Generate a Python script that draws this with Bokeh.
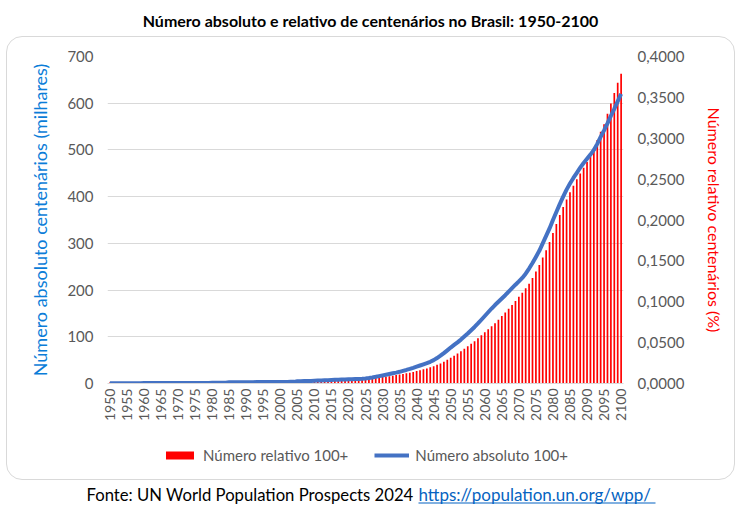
import numpy as np
from bokeh.plotting import figure
from bokeh.layouts import column
from bokeh.models import (Range1d, LinearAxis, FixedTicker, CustomJSTickFormatter,
                          Legend, LegendItem, Label, BoxAnnotation)
from bokeh.embed import file_html
from bokeh.resources import INLINE

years = list(range(1950, 2101))

# Número absoluto de centenários (milhares), 1950-2100
absolute_thousands = [
    0.7, 0.7, 0.7, 0.7, 0.8, 0.8, 0.8, 0.8, 0.8, 0.8,            # 1950s
    0.9, 0.9, 0.9, 0.9, 0.9, 1.0, 1.0, 1.0, 1.0, 1.0,            # 1960s
    1.1, 1.1, 1.1, 1.1, 1.2, 1.2, 1.2, 1.3, 1.3, 1.3,            # 1970s
    1.4, 1.4, 1.5, 1.5, 1.6, 2.6, 2.6, 2.7, 2.7, 2.8,            # 1980s
    2.8, 2.9, 2.9, 3.0, 3.0, 3.1, 3.1, 3.2, 3.2, 3.3,            # 1990s
    3.3, 3.4, 3.4, 3.5, 3.5, 4.8, 5.0, 5.2, 5.4, 5.6,            # 2000s
    6.0, 6.3, 6.6, 6.9, 7.2, 7.5, 7.8, 8.0, 8.3, 8.6,            # 2010s
    8.9, 9.1, 9.4, 9.7, 10.1, 10.8, 11.8, 13.0, 14.3, 15.8,      # 2020s
    17.3, 18.8, 20.3, 21.8, 23.3, 25.0, 27.0, 29.0, 31.2, 33.5,  # 2030s
    36.0, 38.5, 41.0, 43.5, 46.5, 50.0, 54.5, 59.5, 65.0, 71.0,  # 2040s
    77.0, 82.5, 88.0, 94.0, 100.5, 107.0, 114.0, 121.0, 128.5, 136.5,  # 2050s
    144.5, 152.5, 160.5, 168.0, 175.0, 182.0, 189.0, 196.5, 204.0, 211.5,  # 2060s
    218.5, 226.0, 235.0, 246.0, 258.0, 271.0, 284.0, 300.0, 316.0, 332.0,  # 2070s
    350.0, 367.0, 384.0, 400.0, 415.0, 428.0, 440.0, 451.0, 462.0, 472.0,  # 2080s
    481.0, 490.0, 500.0, 513.0, 528.0, 542.0, 557.0, 573.0, 588.0, 604.0,  # 2090s
    620.0,                                                        # 2100
]

# Número relativo de centenários (% da população), 1950-2100
relative_pct = [
    0.0012, 0.0012, 0.0012, 0.0012, 0.0012, 0.0012, 0.0012, 0.0012, 0.0012, 0.0012,
    0.0011, 0.0011, 0.0011, 0.0011, 0.0011, 0.0011, 0.0011, 0.0011, 0.0011, 0.0011,
    0.0011, 0.0011, 0.0011, 0.0011, 0.0011, 0.0011, 0.0011, 0.0011, 0.0011, 0.0011,
    0.0012, 0.0012, 0.0012, 0.0012, 0.0012, 0.0018, 0.0018, 0.0018, 0.0018, 0.0018,
    0.0018, 0.0018, 0.0018, 0.0018, 0.0018, 0.0018, 0.0018, 0.0018, 0.0018, 0.0018,
    0.0018, 0.0018, 0.0018, 0.0018, 0.0018, 0.0024, 0.0025, 0.0026, 0.0027, 0.0027,
    0.0028, 0.0029, 0.0031, 0.0033, 0.0034, 0.0036, 0.0037, 0.0039, 0.0040, 0.0041,
    0.0042, 0.0043, 0.0044, 0.0046, 0.0048, 0.0050, 0.0055, 0.0060, 0.0066, 0.0072,
    0.0078, 0.0084, 0.0090, 0.0096, 0.0103, 0.0110, 0.0117, 0.0124, 0.0132, 0.0142,
    0.0152, 0.0162, 0.0173, 0.0185, 0.0198, 0.0212, 0.0228, 0.0246, 0.0266, 0.0290,
    0.0315, 0.0340, 0.0367, 0.0395, 0.0425, 0.0455, 0.0485, 0.0518, 0.0552, 0.0590,
    0.0628, 0.0665, 0.0700, 0.0738, 0.0780, 0.0825, 0.0870, 0.0915, 0.0960, 0.1010,
    0.1060, 0.1110, 0.1165, 0.1220, 0.1290, 0.1370, 0.1450, 0.1540, 0.1630, 0.1730,
    0.1840, 0.1950, 0.2060, 0.2160, 0.2250, 0.2340, 0.2420, 0.2500, 0.2570, 0.2640,
    0.2710, 0.2780, 0.2870, 0.2980, 0.3080, 0.3170, 0.3300, 0.3425, 0.3555, 0.3680,
    0.3790,
]

x_ticks = list(range(1950, 2101, 5))
left_ticks = [0, 100, 200, 300, 400, 500, 600, 700]
right_ticks = [0.0, 0.05, 0.10, 0.15, 0.20, 0.25, 0.30, 0.35, 0.40]

title_text = "Número absoluto e relativo de centenários no Brasil: 1950-2100"
left_label = "Número absoluto centenários (milhares)"
right_label = "Número relativo centenários (%)"
legend_rel = "Número relativo 100+"
legend_abs = "Número absoluto 100+"
source_text = "Fonte: UN World Population Prospects 2024"
source_link = "https://population.un.org/wpp/"

FONT = "Lato"
GRAY = "#595959"
RED = "#ff0000"
BLUE = "#4472c4"
LINK = "#0563c1"
X_RANGE = (1949.3, 2100.7)


def blank_figure(w, h, xr, yr):
    f = figure(width=w, height=h, output_backend="svg", toolbar_location=None,
               x_range=Range1d(*xr), y_range=Range1d(*yr),
               x_axis_type=None, y_axis_type=None, min_border=0)
    f.outline_line_color = None
    f.grid.visible = False
    f.background_fill_alpha = 0
    f.border_fill_alpha = 0
    return f


# ---------- title strip ----------
TW, TH = 740, 36
t = blank_figure(TW, TH, (0, TW), (TH, 0))
t.add_layout(Label(x=370, y=20, text=title_text, text_font=FONT,
                   text_font_size="16px", text_font_style="bold",
                   text_color="#000000", text_align="center", text_baseline="middle"))

# ---------- main chart ----------
p = figure(width=727, height=393, output_backend="svg", toolbar_location=None,
           x_range=Range1d(*X_RANGE), y_range=Range1d(0, 700),
           min_border_left=100, min_border_right=111, min_border_top=19,
           min_border_bottom=47)
p.extra_y_ranges = {"rel": Range1d(0, 0.4)}
p.outline_line_color = None
p.background_fill_alpha = 0
p.border_fill_alpha = 0
p.xgrid.grid_line_color = None
p.ygrid.grid_line_color = "#d9d9d9"
p.ygrid.ticker = FixedTicker(ticks=left_ticks)

bars = p.vbar(x=years, top=relative_pct, width=0.5, y_range_name="rel",
              fill_color=RED, line_color=None)
line = p.line(years, absolute_thousands, line_width=4, line_color=BLUE)

xa = p.xaxis[0]
xa.ticker = FixedTicker(ticks=x_ticks)
xa.major_label_orientation = np.pi / 2
xa.major_label_text_font = FONT
xa.major_label_text_font_size = "14px"
xa.major_label_text_color = GRAY
xa.axis_line_color = "#d9d9d9"
xa.major_tick_line_color = None
xa.minor_tick_line_color = None
xa.major_tick_out = 0
xa.minor_tick_out = 0
xa.major_label_standoff = 5

ya = p.yaxis[0]
ya.ticker = FixedTicker(ticks=left_ticks)
ya.major_label_text_font = FONT
ya.major_label_text_font_size = "15px"
ya.major_label_text_color = GRAY
ya.axis_line_color = None
ya.major_tick_line_color = None
ya.minor_tick_line_color = None
ya.major_tick_out = 0
ya.minor_tick_out = 0
ya.major_label_standoff = 14
ya.axis_label = left_label
ya.axis_label_text_font = FONT
ya.axis_label_text_font_size = "18px"
ya.axis_label_text_font_style = "normal"
ya.axis_label_text_color = "#0b7dd8"
ya.axis_label_standoff = 13

ra = LinearAxis(y_range_name="rel", ticker=FixedTicker(ticks=right_ticks),
                formatter=CustomJSTickFormatter(code="return tick.toFixed(4).replace('.', ',');"))
ra.major_label_text_font = FONT
ra.major_label_text_font_size = "15px"
ra.major_label_text_color = GRAY
ra.axis_line_color = None
ra.major_tick_line_color = None
ra.minor_tick_line_color = None
ra.major_tick_out = 0
ra.minor_tick_out = 0
ra.major_label_standoff = 14
ra.axis_label = right_label
ra.axis_label_text_font = FONT
ra.axis_label_text_font_size = "16px"
ra.axis_label_text_font_style = "normal"
ra.axis_label_text_color = RED
ra.axis_label_standoff = 18
p.add_layout(ra, "right")

# ---------- legend strip (inside the rounded box) ----------
# proxy renderers share the chart's series but lie below this strip's view,
# so only their legend swatches are seen
lg = blank_figure(727, 49, X_RANGE, (1000, 2000))
leg_bar = lg.vbar(x=years, top=relative_pct, width=0.5, fill_color=RED, line_color=None)
leg_line = lg.line(years, absolute_thousands, line_width=4, line_color=BLUE)
legend = Legend(items=[LegendItem(label=legend_rel, renderers=[leg_bar]),
                       LegendItem(label=legend_abs, renderers=[leg_line])],
                orientation="horizontal", location="center",
                border_line_color=None, background_fill_alpha=0,
                label_text_font=FONT, label_text_font_size="15px",
                label_text_color=GRAY, glyph_width=35, glyph_height=10,
                spacing=26, label_standoff=6, margin=0, padding=2)
lg.add_layout(legend)

box = column(p, lg, spacing=0, margin=(0, 0, 0, 6),
             styles={"border": "1px solid #d9d9d9", "border-radius": "16px",
                     "overflow": "hidden"})

# ---------- source strip ----------
FW, FH = 740, 31
f = blank_figure(FW, FH, (0, FW), (FH, 0))
f.add_layout(Label(x=86, y=14, text=source_text, text_font=FONT,
                   text_font_size="16.7px", text_color="#000000",
                   text_align="left", text_baseline="middle"))
f.add_layout(Label(x=418, y=14, text=source_link, text_font=FONT,
                   text_font_size="17px", text_color=LINK,
                   text_align="left", text_baseline="middle"))
f.add_layout(BoxAnnotation(left=418, right=655, top=22, bottom=23,
                           fill_color=LINK, fill_alpha=1, line_color=None))

page = column(t, box, f, spacing=0)
open("out.html", "w").write(file_html(page, INLINE))
